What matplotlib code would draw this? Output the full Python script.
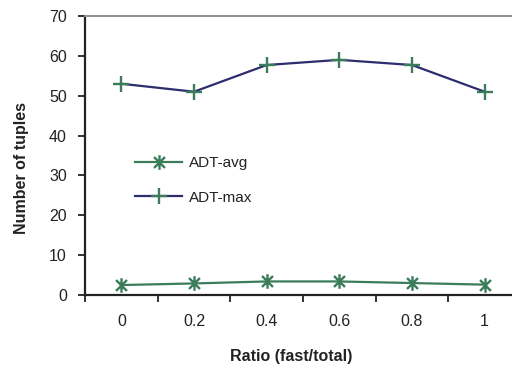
import matplotlib
matplotlib.use("Agg")
import matplotlib.pyplot as plt
from matplotlib.path import Path
from matplotlib.ticker import FixedLocator

ratios = ["0", "0.2", "0.4", "0.6", "0.8", "1"]
adt_avg = [2.5, 2.9, 3.4, 3.4, 3.0, 2.6]
adt_max = [53, 51, 57.7, 59, 57.7, 51]

GREEN = "#3b7d5a"
NAVY = "#2d2d6e"

plt.rcParams["font.family"] = ["Liberation Sans", "DejaVu Sans"]

# asterisk marker: vertical bar plus an X
asterisk = Path(
    [(0, -1), (0, 1), (-0.75, -0.75), (0.75, 0.75), (-0.75, 0.75), (0.75, -0.75)],
    [Path.MOVETO, Path.LINETO, Path.MOVETO, Path.LINETO, Path.MOVETO, Path.LINETO],
)

fig = plt.figure(figsize=(5.12, 3.71), dpi=100)
ax = fig.add_axes((85 / 512, 1 - 295 / 371, 436 / 512, 279 / 371))

x = list(range(len(ratios)))
ax.plot(x, adt_avg, color=GREEN, linewidth=1.6, marker=asterisk,
        markersize=10.5, markeredgewidth=1.7, markeredgecolor=GREEN,
        label="ADT-avg")
ax.plot(x, adt_max, color=NAVY, linewidth=1.6, marker="+",
        markersize=11.5, markeredgewidth=1.7, markeredgecolor=GREEN,
        label="ADT-max")

ax.set_xlim(-0.5, len(ratios) - 0.5)
ax.set_ylim(0, 70)
ax.set_yticks(range(0, 71, 10))
ax.set_xticks(x)
ax.set_xticklabels(ratios)
ax.xaxis.set_minor_locator(FixedLocator([i + 0.5 for i in range(-1, len(ratios))]))

ax.tick_params(axis="y", direction="out", length=5, width=1.3, pad=8,
               labelsize=11.5, colors="#222222")
ax.tick_params(axis="x", which="major", length=0, pad=14,
               labelsize=11.5, colors="#222222")
ax.tick_params(axis="x", which="minor", direction="out", length=5, width=1.3,
               color="#222222")

for side in ("left", "bottom"):
    ax.spines[side].set_color("#222222")
    ax.spines[side].set_linewidth(1.6)
ax.spines["top"].set_color("#909090")
ax.spines["top"].set_linewidth(1.4)
ax.spines["right"].set_visible(False)

fig.text(22 / 512, 1 - 168 / 371, "Number of tuples", rotation=90,
         ha="center", va="center", fontsize=11.5, fontweight="bold",
         color="#222222")
fig.text(291 / 512, 1 - 357 / 371, "Ratio (fast/total)", ha="center",
         va="center", fontsize=11.5, fontweight="bold", color="#222222")

ax.legend(loc="upper left", bbox_to_anchor=(135 / 512, 1 - 156 / 371),
          bbox_transform=fig.transFigure, frameon=False, fontsize=11,
          handlelength=3.1, handletextpad=0.4, labelspacing=1.35,
          borderpad=0, borderaxespad=0, labelcolor="#222222")

fig.savefig("out.png", dpi=100)
